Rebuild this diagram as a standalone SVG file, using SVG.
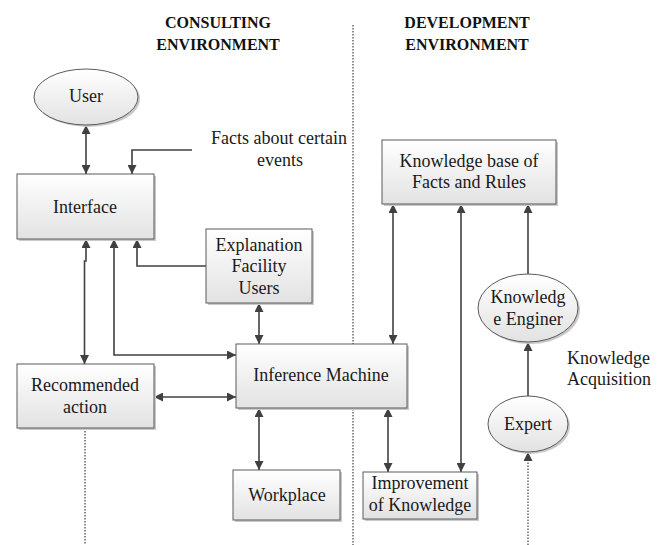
<svg xmlns="http://www.w3.org/2000/svg" width="666" height="545" viewBox="0 0 666 545">
<defs>
<linearGradient id="g" x1="0" y1="0" x2="0" y2="1">
<stop offset="0" stop-color="#ffffff"/>
<stop offset="1" stop-color="#e2e2e2"/>
</linearGradient>
<marker id="ah" viewBox="0 0 9 9" refX="9" refY="4.5" markerWidth="9" markerHeight="9" markerUnits="userSpaceOnUse" orient="auto-start-reverse">
<path d="M0,0 L9,4.5 L0,9 z" fill="#404040"/>
</marker>
</defs>
<style>
.box{fill:url(#g);stroke:#5a5a5a;stroke-width:1}
.sh{fill:#c9c9c9}
.t{font-family:"Liberation Serif","Times New Roman",serif;font-size:18px;fill:#1a1a1a;text-anchor:middle}
.tl{font-family:"Liberation Serif","Times New Roman",serif;font-size:18px;fill:#1a1a1a}
.h{font-family:"Liberation Serif","Times New Roman",serif;font-size:16px;font-weight:bold;fill:#111;text-anchor:middle}
.c{fill:none;stroke:#404040;stroke-width:1.6}
.d{fill:none;stroke:#404040;stroke-width:1.2;stroke-dasharray:1.5 1.5}
</style>
<rect width="666" height="545" fill="#ffffff"/>

<g id="headings">
<text class="h" x="218" y="28">CONSULTING</text>
<text class="h" x="218" y="50">ENVIRONMENT</text>
<text class="h" x="467" y="28">DEVELOPMENT</text>
<text class="h" x="467" y="50">ENVIRONMENT</text>
</g>

<g id="labels">
<text class="t" x="279" y="144">Facts about certain</text>
<text class="t" x="280" y="166">events</text>
<text class="tl" x="567" y="364">Knowledge</text>
<text class="tl" x="567" y="385">Acquisition</text>
</g>

<g id="connectors">
<path class="d" d="M353,25 V545"/>
<path class="d" d="M85,428 V545"/>
<path class="d" d="M528,545 V452" marker-end="url(#ah)"/>
<path class="c" d="M86,125 V174" marker-start="url(#ah)" marker-end="url(#ah)"/>
<path class="c" d="M192,150 H132 V174" marker-end="url(#ah)"/>
<path class="c" d="M206,266 H137 V239" marker-end="url(#ah)"/>
<path class="c" d="M86,239 V261 H84.5 V364" marker-start="url(#ah)" marker-end="url(#ah)"/>
<path class="c" d="M114,239 V355 H236" marker-start="url(#ah)" marker-end="url(#ah)"/>
<path class="c" d="M154,397 H236" marker-start="url(#ah)" marker-end="url(#ah)"/>
<path class="c" d="M259,303 V344" marker-start="url(#ah)" marker-end="url(#ah)"/>
<path class="c" d="M259,408 V470" marker-start="url(#ah)" marker-end="url(#ah)"/>
<path class="c" d="M393,204 V344" marker-start="url(#ah)" marker-end="url(#ah)"/>
<path class="c" d="M461,204 V472" marker-start="url(#ah)" marker-end="url(#ah)"/>
<path class="c" d="M388,408 V472" marker-start="url(#ah)" marker-end="url(#ah)"/>
<path class="c" d="M528,274 V204" marker-end="url(#ah)"/>
<path class="c" d="M528,396 V342" marker-end="url(#ah)"/>
</g>

<g id="user">
<ellipse class="sh" cx="88" cy="99" rx="52" ry="28"/>
<ellipse class="box" cx="86" cy="97" rx="52" ry="28"/>
<text class="t" x="86" y="102">User</text>
</g>

<g id="interface">
<rect class="sh" x="19" y="176" width="137" height="65"/>
<rect class="box" x="17" y="174" width="137" height="65"/>
<text class="t" x="85" y="213">Interface</text>
</g>

<g id="explanation">
<rect class="sh" x="208" y="231" width="106" height="74"/>
<rect class="box" x="206" y="229" width="106" height="74"/>
<text class="t" x="259" y="251">Explanation</text>
<text class="t" x="259" y="272">Facility</text>
<text class="t" x="259" y="294">Users</text>
</g>

<g id="recommended">
<rect class="sh" x="19" y="366" width="137" height="64"/>
<rect class="box" x="17" y="364" width="137" height="64"/>
<text class="t" x="85" y="391">Recommended</text>
<text class="t" x="85" y="413">action</text>
</g>

<g id="inference">
<rect class="sh" x="238" y="346" width="171" height="64"/>
<rect class="box" x="236" y="344" width="171" height="64"/>
<text class="t" x="321" y="381">Inference Machine</text>
</g>

<g id="workplace">
<rect class="sh" x="235" y="472" width="107" height="50"/>
<rect class="box" x="233" y="470" width="107" height="50"/>
<text class="t" x="287" y="501">Workplace</text>
</g>

<g id="knowledgebase">
<rect class="sh" x="384" y="142" width="174" height="64"/>
<rect class="box" x="382" y="140" width="174" height="64"/>
<text class="t" x="469" y="167">Knowledge base of</text>
<text class="t" x="469" y="188">Facts and Rules</text>
</g>

<g id="improvement">
<rect class="sh" x="365" y="474" width="114" height="47"/>
<rect class="box" x="363" y="472" width="114" height="47"/>
<text class="t" x="420" y="489">Improvement</text>
<text class="t" x="420" y="511">of Knowledge</text>
</g>

<g id="engineer">
<ellipse class="sh" cx="530" cy="310" rx="50" ry="34"/>
<ellipse class="box" cx="528" cy="308" rx="50" ry="34"/>
<text class="t" x="528" y="303">Knowledg</text>
<text class="t" x="528" y="325">e Enginer</text>
</g>

<g id="expert">
<ellipse class="sh" cx="530" cy="426" rx="40" ry="28"/>
<ellipse class="box" cx="528" cy="424" rx="40" ry="28"/>
<text class="t" x="528" y="430">Expert</text>
</g>
</svg>
